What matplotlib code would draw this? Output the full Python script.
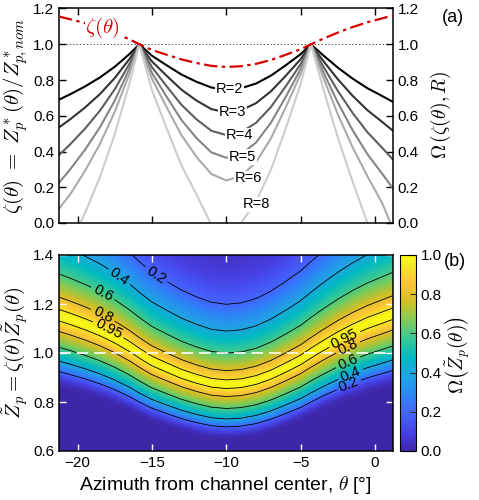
import numpy as np
import matplotlib
matplotlib.use("Agg")
import matplotlib.pyplot as plt
from matplotlib.colors import LinearSegmentedColormap
from matplotlib.ticker import FormatStrFormatter

plt.rcParams['font.family'] = ['Liberation Sans', 'DejaVu Sans']
plt.rcParams['mathtext.fontset'] = 'cm'

# panel (a): azimuth samples
theta_a = [-21.25, -20.5, -19.5, -18.5, -17.5, -16.5, -15.85, -15, -14, -13, -12, -11, -10,
           -9, -8, -7, -6, -5, -4.3, -3.5, -2.5, -1.5, -0.5, 0.5, 1.25]
zeta = [1.155, 1.14, 1.118, 1.093, 1.063, 1.027, 1.0, 0.968, 0.941, 0.915, 0.895, 0.879, 0.873,
        0.877, 0.89, 0.912, 0.941, 0.972, 1.0, 1.03, 1.065, 1.096, 1.123, 1.145, 1.162]
omega_R = {
    2: [0.69, 0.72, 0.764, 0.814, 0.874, 0.946, 1.0, 0.936, 0.882, 0.83, 0.79, 0.758, 0.746,
        0.754, 0.78, 0.824, 0.882, 0.944, 1.0, 0.94, 0.87, 0.808, 0.754, 0.71, 0.676],
    3: [0.535, 0.58, 0.646, 0.721, 0.811, 0.919, 1.0, 0.904, 0.823, 0.745, 0.685, 0.637, 0.619,
        0.631, 0.67, 0.736, 0.823, 0.916, 1.0, 0.91, 0.805, 0.712, 0.631, 0.565, 0.514],
    4: [0.38, 0.44, 0.528, 0.628, 0.748, 0.892, 1.0, 0.872, 0.764, 0.66, 0.58, 0.516, 0.492,
        0.508, 0.56, 0.648, 0.764, 0.888, 1.0, 0.88, 0.74, 0.616, 0.508, 0.42, 0.352],
    5: [0.225, 0.30, 0.41, 0.535, 0.685, 0.865, 1.0, 0.84, 0.705, 0.575, 0.475, 0.395, 0.365,
        0.385, 0.45, 0.56, 0.705, 0.86, 1.0, 0.85, 0.675, 0.52, 0.385, 0.275, 0.19],
    6: [0.08, 0.16, 0.292, 0.442, 0.622, 0.838, 1.0, 0.808, 0.646, 0.49, 0.37, 0.274, 0.238,
        0.262, 0.34, 0.472, 0.646, 0.832, 1.0, 0.82, 0.61, 0.424, 0.262, 0.11, -0.04],
    8: [-0.24, -0.12, 0.056, 0.256, 0.496, 0.784, 1.0, 0.744, 0.528, 0.32, 0.16, -0.01, -0.05,
        0.0, 0.12, 0.296, 0.528, 0.776, 1.0, 0.76, 0.48, 0.232, 0.0, -0.16, -0.296],
}
R_colors = {2: '#000000', 3: '#333333', 4: '#5e5e5e', 5: '#858585', 6: '#aaaaaa', 8: '#cccccc'}
R_label_pos = {2: (-9.8, 0.749), 3: (-9.55, 0.62), 4: (-9.1, 0.491),
               5: (-8.9, 0.368), 6: (-8.5, 0.25), 8: (-8.0, 0.105)}

# panel (b): Omega profile across the ridge, vs ratio Z / zeta(theta)
ratio = [0.60, 0.74, 0.76, 0.78, 0.80, 0.837, 0.886, 0.942, 0.979, 1.0, 1.02, 1.063, 1.145,
         1.248, 1.373, 1.5, 1.65, 1.8, 2.5]
omega_ratio = [0.0, 0.0, 0.03, 0.1, 0.2, 0.4, 0.6, 0.8, 0.95, 1.0, 0.95, 0.8, 0.6,
               0.4, 0.2, 0.09, 0.03, 0.0, 0.0]
levels = [0.2, 0.4, 0.6, 0.8, 0.95]
clabel_pos = [(-14.73, 1.318), (-17.22, 1.31), (-18.3, 1.245), (-18.3, 1.155), (-17.96, 1.093),
              (-2.08, 1.064), (-1.81, 1.024), (-1.81, 0.963), (-1.61, 0.91), (-1.74, 0.868)]

parula = LinearSegmentedColormap.from_list('parula', [
    (0 / 63, (0.2422, 0.1504, 0.6603)), (6 / 63, (0.2783, 0.2559, 0.8991)),
    (12 / 63, (0.2699, 0.3892, 0.9906)), (18 / 63, (0.1786, 0.5289, 0.9682)),
    (24 / 63, (0.1248, 0.6459, 0.8883)), (30 / 63, (0.0067, 0.7312, 0.7660)),
    (36 / 63, (0.2161, 0.7843, 0.5923)), (42 / 63, (0.5044, 0.7993, 0.3480)),
    (48 / 63, (0.8203, 0.7498, 0.1535)), (54 / 63, (0.9970, 0.7659, 0.2199)),
    (60 / 63, (0.9597, 0.9135, 0.1423)), (63 / 63, (0.9769, 0.9839, 0.0805))])

xlim = (-21.25, 1.2)
fig = plt.figure(figsize=(4.79, 5.0), dpi=100)
ax1 = fig.add_axes([0.1232, 0.554, 0.6966, 0.429])
ax2 = fig.add_axes([0.1232, 0.098, 0.6966, 0.392])
cax = fig.add_axes([0.835, 0.098, 0.0334, 0.392])

# ---- panel (a)
ax1.axhline(1.0, color='#555555', lw=0.7, ls=(0, (1.5, 2)), zorder=1)
for R, vals in omega_R.items():
    ax1.plot(theta_a, vals, color=R_colors[R], lw=1.5, zorder=2)
    ax1.text(*R_label_pos[R], f'R={R}', fontsize=10.5, ha='center', va='center', zorder=4,
             bbox=dict(facecolor='white', edgecolor='none', pad=0.5))
ax1.plot(theta_a, zeta, color='#d40000', lw=1.6, ls=(0, (6, 2, 1.5, 2)), zorder=3)
ax1.text(-18.3, 1.09, r'$\zeta(\theta)$', color='#d40000', fontsize=15, ha='center', va='center',
         zorder=4, bbox=dict(facecolor='white', edgecolor='none', pad=0.5))
ax1.set_xlim(*xlim)
ax1.set_ylim(0, 1.2)
ax1.set_xticks([-20, -15, -10, -5, 0])
ax1.set_yticks(np.arange(0, 1.21, 0.2))
ax1.yaxis.set_major_formatter(FormatStrFormatter('%.1f'))
ax1.tick_params(direction='in', top=True, right=True, labelbottom=False, labelright=True,
                labelsize=11, length=5, width=1)
ax1.set_ylabel(r'$\zeta(\theta)\ =\ Z^*_p(\theta)/Z^*_{p,nom}$', fontsize=15, labelpad=2)
fig.text(441 / 479, 1 - 115 / 500, r'$\Omega\,(\zeta(\theta),R)$', fontsize=14, rotation=90,
         ha='center', va='center')
ax1.text(1.18, 0.96, '(a)', transform=ax1.transAxes, fontsize=13, ha='center', va='center')

# ---- panel (b)
th = np.linspace(xlim[0], xlim[1], 400)
zz = np.linspace(0.6, 1.4, 300)
TH, ZZ = np.meshgrid(th, zz)
zeta_grid = np.interp(TH, theta_a, zeta)
W = np.interp(ZZ / zeta_grid, ratio, omega_ratio)
pc = ax2.pcolormesh(TH, ZZ, W, cmap=parula, vmin=0, vmax=1, shading='gouraud', rasterized=True)
cs = ax2.contour(TH, ZZ, W, levels=levels, colors='black', linewidths=0.6)
ax2.clabel(cs, fmt='%g', fontsize=10.5, inline=True, inline_spacing=3, manual=clabel_pos)
ax2.axhline(1.0, color='white', lw=1.4, ls=(0, (6, 3)), alpha=0.85)
ax2.set_xlim(*xlim)
ax2.set_ylim(0.6, 1.4)
ax2.set_xticks([-20, -15, -10, -5, 0])
ax2.set_yticks([0.6, 0.8, 1.0, 1.2, 1.4])
ax2.yaxis.set_major_formatter(FormatStrFormatter('%.1f'))
ax2.tick_params(direction='in', top=True, right=True, labelsize=11, length=5, width=1,
                color='white')
ax2.set_xlabel(r'Azimuth from channel center, $\theta$ [°]', fontsize=14, labelpad=3)
ax2.set_ylabel(r'$\tilde{Z}_p = \zeta(\theta)\tilde{Z}_p(\theta)$', fontsize=15, labelpad=2)

cb = fig.colorbar(pc, cax=cax, ticks=np.arange(0, 1.01, 0.2))
cb.ax.yaxis.set_major_formatter(FormatStrFormatter('%.1f'))
cb.ax.tick_params(direction='in', labelsize=11, length=4, color='#333333')
cb.outline.set_linewidth(0.8)
fig.text(458 / 479, 1 - 355 / 500, r'$\Omega\left(\tilde{Z}_p(\theta)\right)$', fontsize=14,
         rotation=90, ha='center', va='center')
fig.text(455 / 479, 1 - 262 / 500, '(b)', fontsize=13, ha='center', va='center')

for a in (ax1, ax2):
    for s in a.spines.values():
        s.set_linewidth(1.1)

fig.savefig('out.png', dpi=100)
